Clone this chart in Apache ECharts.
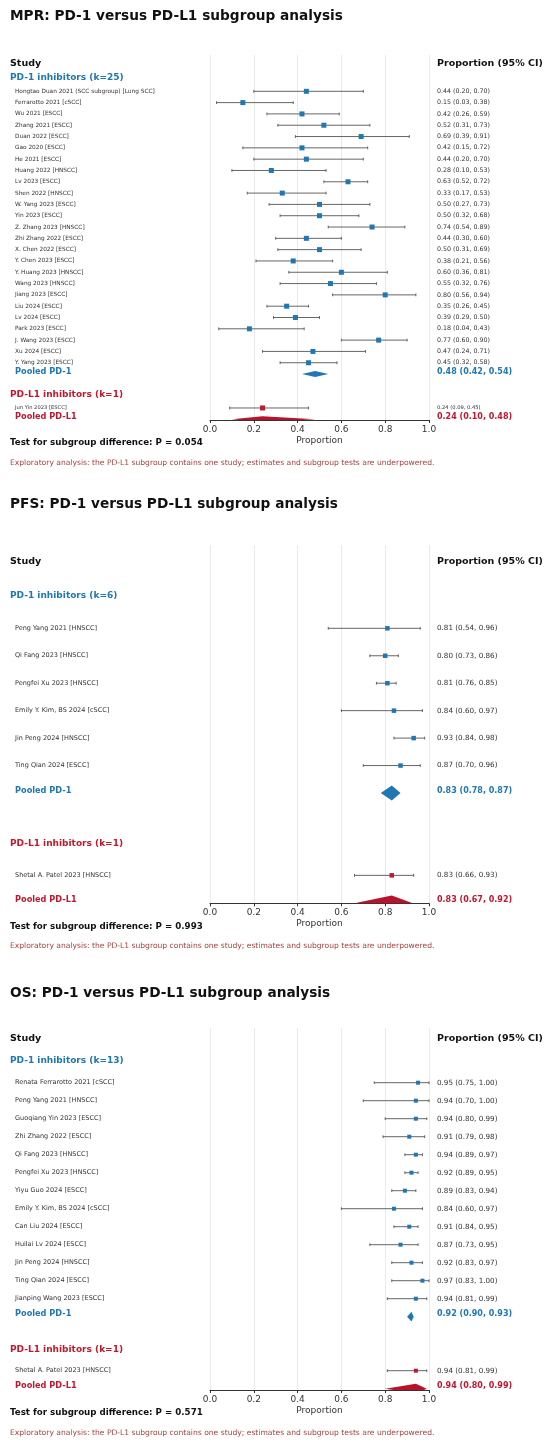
<!DOCTYPE html>
<html>
<head>
<meta charset="utf-8">
<script src="https://cdn.jsdelivr.net/npm/echarts@6/dist/echarts.min.js"></script>
<style>
  html, body { margin: 0; padding: 0; background: #fff; }
  #chart { width: 550px; height: 1446px; }
</style>
</head>
<body>
<div id="chart"></div>
<script>
// ===== data =====
// MPR
var mprStudies = [
  'Hongtao Duan 2021 (SCC subgroup) [Lung SCC]', 'Ferrarotto 2021 [cSCC]', 'Wu 2021 [ESCC]',
  'Zhang 2021 [ESCC]', 'Duan 2022 [ESCC]', 'Gao 2020 [ESCC]', 'He 2021 [ESCC]', 'Huang 2022 [HNSCC]',
  'Lv 2023 [ESCC]', 'Shen 2022 [HNSCC]', 'W. Yang 2023 [ESCC]', 'Yin 2023 [ESCC]',
  'Z. Zhang 2023 [HNSCC]', 'Zhi Zhang 2022 [ESCC]', 'X. Chen 2022 [ESCC]', 'Y. Chen 2023 [ESCC]',
  'Y. Huang 2023 [HNSCC]', 'Wang 2023 [HNSCC]', 'Jiang 2023 [ESCC]', 'Liu 2024 [ESCC]',
  'Lv 2024 [ESCC]', 'Park 2023 [ESCC]', 'J. Wang 2023 [ESCC]', 'Xu 2024 [ESCC]', 'Y. Yang 2023 [ESCC]'
];
var mprEst = [0.44, 0.15, 0.42, 0.52, 0.69, 0.42, 0.44, 0.28, 0.63, 0.33, 0.50, 0.50, 0.74,
  0.44, 0.50, 0.38, 0.60, 0.55, 0.80, 0.35, 0.39, 0.18, 0.77, 0.47, 0.45];
var mprLo = [0.20, 0.03, 0.26, 0.31, 0.39, 0.15, 0.20, 0.10, 0.52, 0.17, 0.27, 0.32, 0.54,
  0.30, 0.31, 0.21, 0.36, 0.32, 0.56, 0.26, 0.29, 0.04, 0.60, 0.24, 0.32];
var mprHi = [0.70, 0.38, 0.59, 0.73, 0.91, 0.72, 0.70, 0.53, 0.72, 0.53, 0.73, 0.68, 0.89,
  0.60, 0.69, 0.56, 0.81, 0.76, 0.94, 0.45, 0.50, 0.43, 0.90, 0.71, 0.58];
var mprPooledPD1 = [0.48, 0.42, 0.54];
var mprL1Studies = ['Jun Yin 2023 [ESCC]'];
var mprL1Est = [0.24];
var mprL1Lo = [0.09];
var mprL1Hi = [0.45];
var mprPooledPDL1 = [0.24, 0.10, 0.48];
var mprP = '0.054';

// PFS
var pfsStudies = ['Peng Yang 2021 [HNSCC]', 'Qi Fang 2023 [HNSCC]', 'Pengfei Xu 2023 [HNSCC]',
  'Emily Y. Kim, BS 2024 [cSCC]', 'Jin Peng 2024 [HNSCC]', 'Ting Qian 2024 [ESCC]'];
var pfsEst = [0.81, 0.80, 0.81, 0.84, 0.93, 0.87];
var pfsLo = [0.54, 0.73, 0.76, 0.60, 0.84, 0.70];
var pfsHi = [0.96, 0.86, 0.85, 0.97, 0.98, 0.96];
var pfsPooledPD1 = [0.83, 0.78, 0.87];
var pfsL1Studies = ['Shetal A. Patel 2023 [HNSCC]'];
var pfsL1Est = [0.83];
var pfsL1Lo = [0.66];
var pfsL1Hi = [0.93];
var pfsPooledPDL1 = [0.83, 0.67, 0.92];
var pfsP = '0.993';

// OS
var osStudies = ['Renata Ferrarotto 2021 [cSCC]', 'Peng Yang 2021 [HNSCC]', 'Guoqiang Yin 2023 [ESCC]',
  'Zhi Zhang 2022 [ESCC]', 'Qi Fang 2023 [HNSCC]', 'Pengfei Xu 2023 [HNSCC]', 'Yiyu Guo 2024 [ESCC]',
  'Emily Y. Kim, BS 2024 [cSCC]', 'Can Liu 2024 [ESCC]', 'Huilai Lv 2024 [ESCC]', 'Jin Peng 2024 [HNSCC]',
  'Ting Qian 2024 [ESCC]', 'Jianping Wang 2023 [ESCC]'];
var osEst = [0.95, 0.94, 0.94, 0.91, 0.94, 0.92, 0.89, 0.84, 0.91, 0.87, 0.92, 0.97, 0.94];
var osLo = [0.75, 0.70, 0.80, 0.79, 0.89, 0.89, 0.83, 0.60, 0.84, 0.73, 0.83, 0.83, 0.81];
var osHi = [1.00, 1.00, 0.99, 0.98, 0.97, 0.95, 0.94, 0.97, 0.95, 0.95, 0.97, 1.00, 0.99];
var osPooledPD1 = [0.92, 0.90, 0.93];
var osL1Studies = ['Shetal A. Patel 2023 [HNSCC]'];
var osL1Est = [0.94];
var osL1Lo = [0.81];
var osL1Hi = [0.99];
var osPooledPDL1 = [0.94, 0.80, 0.99];
var osP = '0.571';

var xTickLabels = ['0.0', '0.2', '0.4', '0.6', '0.8', '1.0'];

// ===== style / layout =====
var FONT = '"DejaVu Sans", sans-serif';
var BLUE = '#1f77b4';
var RED = '#c0182f';
var RED_FILL = '#b5142b';
var NOTE = '#a6443f';
var CI_LINE = '#555';
var GRID_LEFT = 210, GRID_W = 219;
var HEAD_X = 10, LABEL_X = 15, CI_X = 437;

var panels = [
  { name: 'MPR', studies: mprStudies, est: mprEst, lo: mprLo, hi: mprHi, pooled1: mprPooledPD1,
    l1: mprL1Studies, l1Est: mprL1Est, l1Lo: mprL1Lo, l1Hi: mprL1Hi, pooledL1: mprPooledPDL1, p: mprP,
    titleY: 16, top: 55, firstRow: 91.3, step: 11.31, axisY: 420, label: 5.8, l1Label: 5.2, ci: 6.3, mark: 5 },
  { name: 'PFS', studies: pfsStudies, est: pfsEst, lo: pfsLo, hi: pfsHi, pooled1: pfsPooledPD1,
    l1: pfsL1Studies, l1Est: pfsL1Est, l1Lo: pfsL1Lo, l1Hi: pfsL1Hi, pooledL1: pfsPooledPDL1, p: pfsP,
    titleY: 504.3, top: 545, firstRow: 628.3, step: 27.45, axisY: 903.3, label: 6.5, l1Label: 6.5, ci: 7.2, mark: 4.5 },
  { name: 'OS', studies: osStudies, est: osEst, lo: osLo, hi: osHi, pooled1: osPooledPD1,
    l1: osL1Studies, l1Est: osL1Est, l1Lo: osL1Lo, l1Hi: osL1Hi, pooledL1: osPooledPDL1, p: osP,
    titleY: 993, top: 1028, firstRow: 1082.7, step: 18, axisY: 1390, label: 6.5, l1Label: 6.5, ci: 7.2, mark: 4 }
];

function fmt(e, l, h) { return e.toFixed(2) + ' (' + l.toFixed(2) + ', ' + h.toFixed(2) + ')'; }

function txt(x, y, s, font, fill) {
  return { type: 'text', silent: true,
    style: { x: x, y: y, text: s, font: font, fill: fill, align: 'left', verticalAlign: 'middle' } };
}

function buildRows(pn) {
  var n = pn.studies.length;
  var rows = [{ kind: 'head', row: -2.45 },
    { kind: 'group', row: -1.2, text: 'PD-1 inhibitors (k=' + n + ')', color: BLUE }];
  pn.studies.forEach(function(s, i) {
    rows.push({ kind: 'study', row: i, name: s, est: pn.est[i], lo: pn.lo[i], hi: pn.hi[i], color: BLUE, size: pn.label });
  });
  rows.push({ kind: 'pooled', row: n, name: 'Pooled PD-1', est: pn.pooled1[0], lo: pn.pooled1[1], hi: pn.pooled1[2], color: BLUE, fill: BLUE });
  rows.push({ kind: 'group', row: n + 1.85, text: 'PD-L1 inhibitors (k=' + pn.l1.length + ')', color: RED });
  pn.l1.forEach(function(s, i) {
    rows.push({ kind: 'study', row: n + 3 + i, name: s, est: pn.l1Est[i], lo: pn.l1Lo[i], hi: pn.l1Hi[i], color: RED, size: pn.l1Label });
  });
  rows.push({ kind: 'pooled', row: n + 3 + pn.l1.length, name: 'Pooled PD-L1', est: pn.pooledL1[0], lo: pn.pooledL1[1], hi: pn.pooledL1[2], color: RED, fill: RED_FILL });
  return rows;
}

var grids = [], xAxes = [], yAxes = [], series = [], graphics = [];

panels.forEach(function(pn, gi) {
  var rows = buildRows(pn);
  var pooledRows = rows.filter(function(r) { return r.kind === 'pooled'; });

  grids.push({ left: GRID_LEFT, width: GRID_W, top: pn.top, height: pn.axisY - pn.top });
  xAxes.push({
    gridIndex: gi, type: 'value', min: 0, max: 1, interval: 0.2, position: 'bottom',
    name: 'Proportion', nameLocation: 'middle', nameGap: 16,
    nameTextStyle: { fontFamily: FONT, fontSize: 9, color: '#333' },
    axisLine: { show: true, onZero: false, lineStyle: { color: '#333', width: 1 } },
    axisTick: { show: true, length: 3, lineStyle: { color: '#333' } },
    axisLabel: { fontFamily: FONT, fontSize: 9, color: '#333', margin: 5,
      formatter: function(v) { return xTickLabels[Math.round(v / 0.2)]; } },
    splitLine: { show: true, lineStyle: { color: '#e4e4e4', width: 0.8 } }
  });
  yAxes.push({
    gridIndex: gi, type: 'value', inverse: true, show: false,
    min: (pn.top - pn.firstRow) / pn.step, max: (pn.axisY - pn.firstRow) / pn.step,
    splitLine: { show: false }
  });

  // pooled diamonds, clipped to the plot area
  series.push({
    type: 'custom', xAxisIndex: gi, yAxisIndex: gi, clip: true, silent: true,
    data: pooledRows.map(function(r) { return [r.est, r.row]; }),
    renderItem: function(params, api) {
      var r = pooledRows[params.dataIndex];
      var h = 0.27;
      var pts = [api.coord([r.lo, r.row]), api.coord([r.est, r.row - h]),
                 api.coord([r.hi, r.row]), api.coord([r.est, r.row + h])];
      return { type: 'polygon', shape: { points: pts }, style: { fill: r.fill } };
    }
  });

  // rows: text, CIs, markers
  series.push({
    type: 'custom', xAxisIndex: gi, yAxisIndex: gi, clip: false, silent: true,
    data: rows.map(function(r) { return [r.est || 0, r.row]; }),
    renderItem: function(params, api) {
      var r = rows[params.dataIndex];
      var y = api.coord([0, r.row])[1];
      var kids = [];
      if (r.kind === 'head') {
        kids.push(txt(HEAD_X, y, 'Study', 'bold 9.5px ' + FONT, '#111'));
        kids.push(txt(CI_X, y, 'Proportion (95% CI)', 'bold 9.5px ' + FONT, '#111'));
      } else if (r.kind === 'group') {
        kids.push(txt(HEAD_X, y, r.text, 'bold 9px ' + FONT, r.color));
      } else if (r.kind === 'study') {
        var pl = api.coord([r.lo, r.row]), ph = api.coord([r.hi, r.row]), pe = api.coord([r.est, r.row]);
        var cap = 1.4, m = pn.mark;
        kids.push({ type: 'line', shape: { x1: pl[0], y1: y, x2: ph[0], y2: y }, style: { stroke: CI_LINE, lineWidth: 0.9 } });
        kids.push({ type: 'line', shape: { x1: pl[0], y1: y - cap, x2: pl[0], y2: y + cap }, style: { stroke: CI_LINE, lineWidth: 0.9 } });
        kids.push({ type: 'line', shape: { x1: ph[0], y1: y - cap, x2: ph[0], y2: y + cap }, style: { stroke: CI_LINE, lineWidth: 0.9 } });
        kids.push({ type: 'rect', shape: { x: pe[0] - m / 2, y: y - m / 2, width: m, height: m }, style: { fill: r.color } });
        kids.push(txt(LABEL_X, y, r.name, r.size + 'px ' + FONT, '#333'));
        kids.push(txt(CI_X, y, fmt(r.est, r.lo, r.hi), (r.size === pn.label ? pn.ci : r.size) + 'px ' + FONT, '#333'));
      } else if (r.kind === 'pooled') {
        kids.push(txt(LABEL_X, y - 2.5, r.name, 'bold 8.2px ' + FONT, r.color));
        kids.push(txt(CI_X, y - 2.5, fmt(r.est, r.lo, r.hi), 'bold 8px ' + FONT, r.color));
      }
      return { type: 'group', children: kids };
    }
  });

  graphics.push(txt(HEAD_X, pn.titleY, pn.name + ': PD-1 versus PD-L1 subgroup analysis', 'bold 13.7px ' + FONT, '#111'));
  graphics.push(txt(HEAD_X, pn.axisY + 23, 'Test for subgroup difference: P = ' + pn.p, 'bold 8.7px ' + FONT, '#111'));
  graphics.push(txt(HEAD_X, pn.axisY + 43,
    'Exploratory analysis: the PD-L1 subgroup contains one study; estimates and subgroup tests are underpowered.',
    '7.6px ' + FONT, NOTE));
});

var chart = echarts.init(document.getElementById('chart'), null, { renderer: 'canvas' });
chart.setOption({
  animation: false,
  backgroundColor: '#fff',
  grid: grids,
  xAxis: xAxes,
  yAxis: yAxes,
  series: series,
  graphic: graphics
});
window.addEventListener('resize', function() { chart.resize(); });
</script>
</body>
</html>
